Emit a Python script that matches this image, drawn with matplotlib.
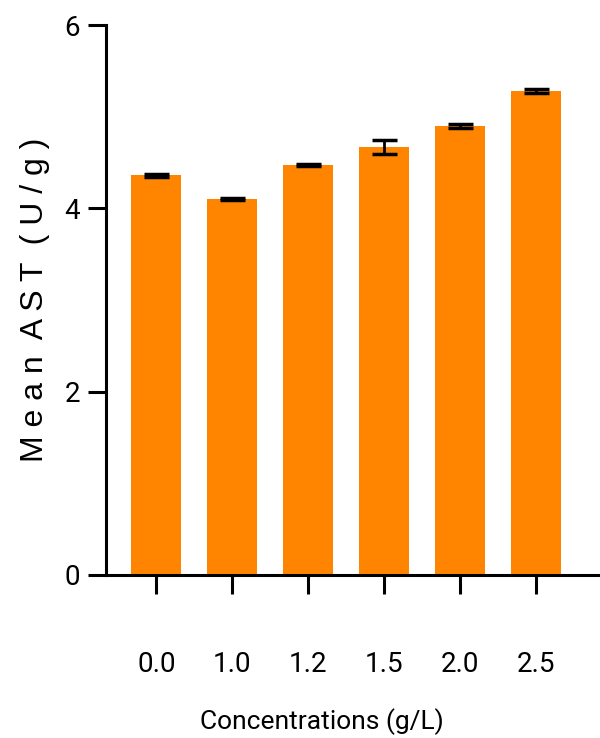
import numpy as np
import matplotlib
matplotlib.use('Agg')
import matplotlib.pyplot as plt

# data
conc = ['0.0', '1.0', '1.2', '1.5', '2.0', '2.5']
mean_ast = [4.36, 4.10, 4.47, 4.67, 4.90, 5.28]
sem_ast = [0.015, 0.01, 0.01, 0.08, 0.02, 0.02]
yticks = [0, 2, 4, 6]

bar_color = '#ff8500'

fig = plt.figure(figsize=(6, 7.38), dpi=100)
ax = fig.add_axes([0.177, 0.221, 0.823, 0.745])

x = np.arange(len(conc))
ax.bar(x, mean_ast, width=0.66, color=bar_color, zorder=2)
ax.errorbar(x, mean_ast, yerr=sem_ast, fmt='none', ecolor='black',
            elinewidth=2, capsize=9, capthick=2.5, zorder=3)

ax.set_xlim(-0.66, 5.84)
ax.set_ylim(0, 6)
ax.set_yticks(yticks)
ax.set_xticks(x)
ax.set_xticklabels(conc, family='Roboto', fontsize=20)
ax.set_yticklabels([str(t) for t in yticks], family='Roboto', fontsize=20)

for side in ['top', 'right']:
    ax.spines[side].set_visible(False)
for side in ['left', 'bottom']:
    ax.spines[side].set_linewidth(2.2)

ax.tick_params(axis='y', length=13, width=2.2, pad=6)
ax.tick_params(axis='x', length=14, width=2.2, pad=41)

ax.set_xlabel('Concentrations (g/L)', family='Roboto', fontsize=19)
ax.xaxis.set_label_coords(0.437, -0.267)
ax.xaxis.label.set_verticalalignment('center')
ax.set_ylabel('M e a n  A S T  ( U / g )', family='Liberation Sans',
              fontsize=23, labelpad=10)

fig.savefig('out.png', dpi=100)
